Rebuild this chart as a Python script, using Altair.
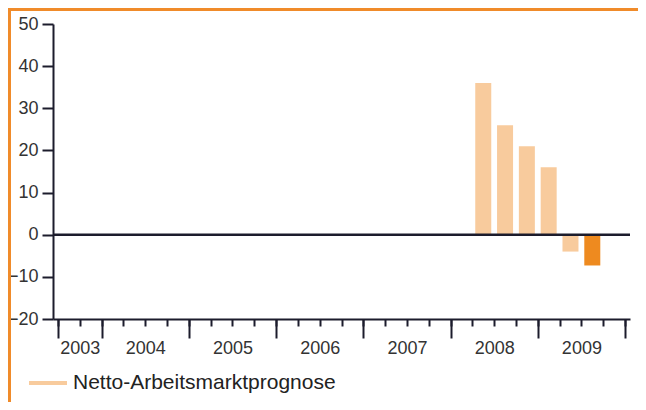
import altair as alt
import pandas as pd

# ---- data ----
quarters = ["2008-Q2", "2008-Q3", "2008-Q4", "2009-Q1", "2009-Q2", "2009-Q3"]
values = [36, 26, 21, 16, -4, -7.3]
series = ["Netto-Arbeitsmarktprognose"] * 5 + ["Aktuell"]
years = ["2003", "2004", "2005", "2006", "2007", "2008", "2009"]
y_ticks = [-20, -10, 0, 10, 20, 30, 40, 50]

FIRST_YEAR = 2003
FIRST_Q_OFFSET = 2  # axis starts at 2003 Q3


def q_index(label):
    y, q = label.split("-Q")
    return (int(y) - FIRST_YEAR) * 4 + int(q) - 1 - FIRST_Q_OFFSET


n_quarters = q_index("2009-Q4") + 1
year_start = [max(0, (int(y) - FIRST_YEAR) * 4 - FIRST_Q_OFFSET) for y in years]
year_end = year_start[1:] + [n_quarters]
year_center = [(a + b) / 2 for a, b in zip(year_start, year_end)]
boundaries = year_start + [n_quarters]

df = pd.DataFrame({
    "quarter": quarters,
    "pos": [q_index(q) + 0.5 for q in quarters],
    "value": values,
    "series": series,
})

label_map = "{" + ",".join(f"'{c:g}':'{y}'" for c, y in zip(year_center, years)) + "}"

W, H = 577, 295
AX = "#1c1c2c"
TXT = "#333333"
ORANGE = "#F08B2A"
LIGHT = "#F8CB9D"
DARK = "#EE8A1F"

xscale = alt.Scale(domain=[0, n_quarters], nice=False, zero=False)
yscale = alt.Scale(domain=[-20, 50], nice=False)

yaxis = alt.Axis(values=y_ticks, title=None, tickSize=11, tickWidth=2, tickColor=AX,
                 domainColor=AX, domainWidth=2, labelFontSize=18, labelColor=TXT,
                 labelFont="Liberation Sans", labelPadding=4, grid=False)

bars = alt.Chart(df).mark_bar(size=16).encode(
    x=alt.X("pos:Q", scale=xscale,
            axis=alt.Axis(orient="bottom", values=list(range(n_quarters + 1)), title=None,
                          tickSize=7, tickWidth=2, tickColor=AX, domainColor=AX, domainWidth=2,
                          labelExpr=f"({label_map})[''+datum.value] || ''",
                          labelFontSize=18, labelColor=TXT, labelFont="Liberation Sans",
                          labelPadding=13, labelBaseline="top", labelFlush=False,
                          labelOverlap=False, grid=False)),
    y=alt.Y("value:Q", scale=yscale, axis=yaxis),
    color=alt.Color("series:N",
                    scale=alt.Scale(domain=["Netto-Arbeitsmarktprognose", "Aktuell"],
                                    range=[LIGHT, DARK]),
                    legend=alt.Legend(values=["Netto-Arbeitsmarktprognose"], title=None,
                                      orient="none", legendX=-26, legendY=338,
                                      symbolType="stroke", symbolSize=1444,
                                      symbolStrokeWidth=4, symbolStrokeColor=LIGHT,
                                      labelFontSize=21, labelColor="#222222",
                                      labelFont="Liberation Sans", labelOffset=4,
                                      labelLimit=0, padding=0)),
)

bdf = pd.DataFrame({"b": boundaries})
long_ticks = alt.Chart(bdf).mark_rule(opacity=0).encode(
    x=alt.X("b:Q", scale=xscale,
            axis=alt.Axis(orient="bottom", values=boundaries, title=None, labels=False,
                          tickSize=19, tickWidth=2, tickColor=AX, domain=False, grid=False)),
    y=alt.Y("zero:Q", scale=yscale, axis=yaxis),
).transform_calculate(zero="0")

zero_line = alt.Chart(alt.Data(values=[{}])).mark_rule(color=AX, strokeWidth=2.5).encode(
    x=alt.value(0), x2=alt.value(W), y=alt.YDatum(0, scale=yscale, axis=yaxis),
)

border_left = alt.Chart(alt.Data(values=[{}])).mark_rule(color=ORANGE, strokeWidth=3).encode(
    x=alt.value(-43.5), y=alt.value(-16), y2=alt.value(H + 83),
)
border_top = alt.Chart(alt.Data(values=[{}])).mark_rule(color=ORANGE, strokeWidth=3).encode(
    x=alt.value(-45), x2=alt.value(W + 8), y=alt.value(-14.5),
)

chart = alt.layer(bars, long_ticks, zero_line, border_left, border_top).resolve_axis(
    x="independent"
).properties(
    width=W, height=H,
    autosize=alt.AutoSizeParams(type="none"),
    padding={"left": 45, "top": 16, "right": 8, "bottom": 83},
).configure(background="white").configure_view(strokeWidth=0, stroke="transparent")

chart.save("out.html", embed_options={"renderer": "svg", "actions": False})
